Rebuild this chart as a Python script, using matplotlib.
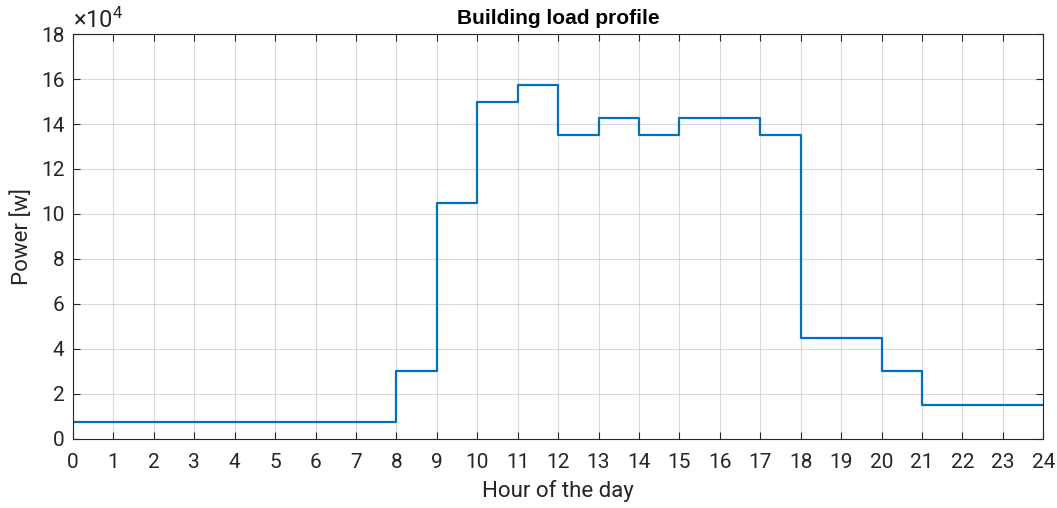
import matplotlib.pyplot as plt
from matplotlib.ticker import FuncFormatter
import numpy as np

# hourly load (W), value holds from hour h to h+1
hours = list(range(0, 25))
load = [7500, 7500, 7500, 7500, 7500, 7500, 7500, 7500,
        30000, 105000, 150000, 157500, 135000, 142500, 135000,
        142500, 142500, 135000, 45000, 45000, 30000, 15000, 15000, 15000]

plt.rcParams['font.family'] = ['Roboto', 'DejaVu Sans']
plt.rcParams['mathtext.fontset'] = 'custom'
plt.rcParams['mathtext.rm'] = 'Roboto'
plt.rcParams['mathtext.it'] = 'Roboto'

fig = plt.figure(figsize=(10.57, 5.08), dpi=100)
ax = fig.add_axes([0.069, 0.136, 0.918, 0.797])

y = load + [load[-1]]
ax.step(hours, y, where='post', color='#0072BD', linewidth=1.6)

ax.set_xlim(0, 24)
ax.set_ylim(0, 180000)
ax.set_xticks(range(0, 25))
ax.set_yticks(range(0, 180001, 20000))
ax.yaxis.set_major_formatter(FuncFormatter(lambda v, p: '%d' % round(v / 1e4)))

ax.grid(True, color='#262626', alpha=0.17, linewidth=0.8)
ax.tick_params(direction='in', length=5, width=0.8, colors='#262626',
               labelsize=15, top=True, right=True, labelcolor='#262626')
ax.tick_params(axis='x', pad=10)
ax.tick_params(axis='y', pad=6)
for s in ax.spines.values():
    s.set_color('#262626')
    s.set_linewidth(0.8)

ax.set_title('Building load profile', fontsize=15, fontweight='bold',
             family=['Liberation Sans', 'DejaVu Sans'], pad=7)
ax.set_xlabel('Hour of the day', fontsize=16, color='#262626', labelpad=6)
ax.set_ylabel('Power [w]', fontsize=16, color='#262626', labelpad=6)
ax.text(0.0, 1.003, r'$\times10^{4}$', transform=ax.transAxes, fontsize=17,
        color='#262626', ha='left', va='bottom')

fig.savefig('out.png', dpi=100)
